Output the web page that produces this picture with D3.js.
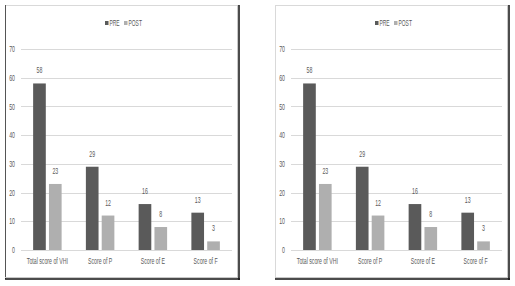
<!DOCTYPE html>
<html>
<head>
<meta charset="utf-8">
<script src="https://cdn.jsdelivr.net/npm/d3@7"></script>
<style>
  body { margin: 0; background: #fff; }
  text { font-family: "Liberation Sans", Arial, sans-serif; fill: #595959; }
</style>
</head>
<body>
<div id="app"></div>
<script>
const categories = ['Total score of VHI', 'Score of P', 'Score of E', 'Score of F']
const series = ['PRE', 'POST']
const pre = [58, 29, 16, 13]
const post = [23, 12, 8, 3]
const y_ticks = [0, 10, 20, 30, 40, 50, 60, 70]

const width = 515
const height = 286
const colors = { PRE: '#5a5a5a', POST: '#afafaf' }
const squeeze = 0.58  // the reference uses a very condensed face

const rows = categories.map((c, i) => ({ cat: c, PRE: pre[i], POST: post[i] }))

const svg = d3.create('svg')
    .attr('viewBox', [0, 0, width, height])
    .attr('width', width)
    .attr('height', height)

svg.append('rect').attr('width', width).attr('height', height).attr('fill', '#fff')

// places text at (x, y) and squeezes it horizontally
const place = (x, y) => `translate(${x}, ${y}) scale(${squeeze}, 1)`

function panel(x0, leftColor) {
    const pw = 234, ph = 274
    const g = svg.append('g').attr('transform', `translate(${x0}, 5)`)

    const x_scale = d3.scaleBand().domain(categories).range([16, 227]).paddingInner(0.46).paddingOuter(0.23)
    const x_inner = d3.scaleBand().domain(series).range([0, x_scale.bandwidth()]).paddingInner(0.2)
    const y_scale = d3.scaleLinear().domain([0, 70]).range([245, 44])

    // gridlines
    g.append('g')
        .selectAll('line')
        .data(y_ticks)
        .join('line')
        .attr('x1', 16).attr('x2', 227)
        .attr('y1', d => Math.round(y_scale(d)) + 0.5)
        .attr('y2', d => Math.round(y_scale(d)) + 0.5)
        .attr('stroke', '#d9d9d9')
        .attr('stroke-width', 1)

    // y axis labels
    g.append('g')
        .selectAll('text')
        .data(y_ticks)
        .join('text')
        .attr('transform', d => place(10, y_scale(d)))
        .attr('dy', '0.35em')
        .attr('text-anchor', 'end')
        .attr('font-size', 9)
        .text(d => d)

    // bars
    const groups = g.append('g')
        .selectAll('g')
        .data(rows)
        .join('g')
        .attr('transform', d => `translate(${x_scale(d.cat)}, 0)`)

    groups.selectAll('rect')
        .data(d => series.map(s => ({ key: s, value: d[s] })))
        .join('rect')
        .attr('x', d => x_inner(d.key))
        .attr('y', d => y_scale(d.value))
        .attr('width', x_inner.bandwidth())
        .attr('height', d => y_scale(0) - y_scale(d.value))
        .attr('fill', d => colors[d.key])

    groups.selectAll('text')
        .data(d => series.map(s => ({ key: s, value: d[s] })))
        .join('text')
        .attr('transform', d => place(x_inner(d.key) + x_inner.bandwidth() / 2, y_scale(d.value) - 10))
        .attr('text-anchor', 'middle')
        .attr('font-size', 9)
        .text(d => d.value)

    // category labels
    g.append('g')
        .selectAll('text')
        .data(categories)
        .join('text')
        .attr('transform', d => place(x_scale(d) + x_scale.bandwidth() / 2, 259))
        .attr('text-anchor', 'middle')
        .attr('font-size', 9)
        .text(d => d)

    // legend
    const legend = g.append('g').attr('transform', 'translate(100, 18)')
    const items = [{ key: 'PRE', x: 0 }, { key: 'POST', x: 19 }]
    legend.selectAll('rect')
        .data(items)
        .join('rect')
        .attr('x', d => d.x)
        .attr('y', -2)
        .attr('width', 3.5)
        .attr('height', 4)
        .attr('fill', d => colors[d.key])
    legend.selectAll('text')
        .data(items)
        .join('text')
        .attr('transform', d => place(d.x + 4.5, 0))
        .attr('dy', '0.35em')
        .attr('font-size', 8.5)
        .text(d => d.key)

    // frame: light top, coloured left, dark right/bottom
    g.append('line').attr('x1', 0).attr('x2', pw).attr('y1', 0.5).attr('y2', 0.5).attr('stroke', '#d9d9d9')
    g.append('line').attr('x1', 0.5).attr('x2', 0.5).attr('y1', 0).attr('y2', ph).attr('stroke', leftColor)
    g.append('line').attr('x1', pw - 1.5).attr('x2', pw - 1.5).attr('y1', 0).attr('y2', ph).attr('stroke', '#c8c8c8')
    g.append('line').attr('x1', 0).attr('x2', pw).attr('y1', ph - 1.5).attr('y2', ph - 1.5).attr('stroke', '#c8c8c8')
    g.append('line').attr('x1', pw).attr('x2', pw).attr('y1', 0).attr('y2', ph + 1).attr('stroke', '#111').attr('stroke-width', 1.5)
    g.append('line').attr('x1', 0).attr('x2', pw + 1).attr('y1', ph).attr('y2', ph).attr('stroke', '#111').attr('stroke-width', 1.5)
}

panel(5, '#555')
panel(275, '#d9d9d9')

d3.select('#app').append(() => svg.node())
</script>
</body>
</html>
